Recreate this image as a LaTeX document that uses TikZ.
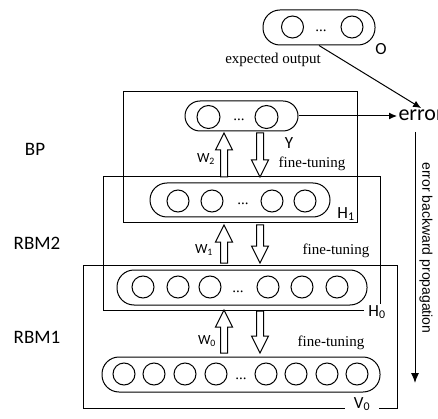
\documentclass[tikz,border=0pt]{standalone}
\usepackage{fontspec}
\setmainfont{Liberation Serif}
\setsansfont{Carlito}
\newfontfamily\arialfont{Liberation Sans}
\usetikzlibrary{arrows.meta,positioning}

\begin{document}
\begin{tikzpicture}[x=1pt,y=-1pt,line width=1pt,
  layer/.style={draw,rounded corners=17pt,minimum height=35pt,inner sep=0pt},
  unit/.style={draw,circle,minimum size=22pt,inner sep=0pt},
  dots/.style={font=\rmfamily\fontsize{15}{18}\selectfont,anchor=base,inner sep=0pt},
  lbl/.style={font=\sffamily\fontsize{19}{22}\selectfont},
  tag/.style={font=\sffamily\fontsize{17}{20}\selectfont,inner sep=1pt},
  wt/.style={font=\sffamily\fontsize{14}{16}\selectfont,inner sep=0pt},
  tune/.style={font=\rmfamily\fontsize{15}{18}\selectfont,inner sep=0pt},
  pics/harrow/.style={code={\draw[fill=white] (-3.5,0) -- (-3.5,{17-#1}) -- (-8.5,{17-#1}) -- (0,{-#1}) -- (8.5,{17-#1}) -- (3.5,{17-#1}) -- (3.5,0) -- cycle;}}]
  \useasboundingbox (0,0) rectangle (438,419);

  % Stacked blocks
  \draw (123,92) rectangle (357,223);
  \draw (103,177) rectangle (380,310);
  \draw (83,265) rectangle (397,408);
  \node[lbl] (bp) at (35,149) {BP};
  \node[lbl] (rbm2) at (37,243) {RBM2};
  \node[lbl] (rbm1) at (37,337) {RBM1};

  % Expected output
  \node[layer,minimum width=112pt] (obox) at (319,27.5) {};
  \foreach \cx [count=\i] in {292.5,352} \node[unit] (o\i) at (\cx,27) {};
  \node[dots] (odots) at (321,32) {...};
  \node[tag] (olbl) at (381,49) {O};
  \node[tune] (expd) at (273,60) {expected output};

  % Layer Y
  \node[layer,minimum width=113pt,minimum height=30pt,rounded corners=15pt] (ybox) at (241.5,116) {};
  \foreach \cx [count=\i] in {208.5,266.5} \node[unit,minimum size=23pt] (y\i) at (\cx,117) {};
  \node[dots] (ydots) at (239,121) {...};
  \node[tag] (ylbl) at (289,143) {Y};

  % Layer H1
  \node[layer,minimum width=180pt,minimum height=34pt] (h1box) at (240,200) {};
  \foreach \cx [count=\i] in {178,212,272,305} \node[unit] (ha\i) at (\cx,201) {};
  \node[dots] (h1dots) at (243,205) {...};
  \node[tag] (h1lbl) at (346,214) {H\textsubscript{1}};

  % Layer H0
  \node[layer,minimum width=250pt] (h0box) at (242,287.5) {};
  \foreach \cx [count=\i] in {143,178,210,268,302,337} \node[unit] (hb\i) at (\cx,287) {};
  \node[dots] (h0dots) at (238,292) {...};
  \node[tag,fill=white,inner xsep=4pt] (h0lbl) at (377,312) {H\textsubscript{0}};

  % Layer V0
  \node[layer,minimum width=278pt] (v0box) at (241,374.5) {};
  \foreach \cx [count=\i] in {124,154,185,216,266,296,327,357} \node[unit] (v\i) at (\cx,374) {};
  \node[dots] (v0dots) at (241,379) {...};
  \node[tag,fill=white,inner xsep=9pt] (v0lbl) at (362,404) {V\textsubscript{0}};

  % Weights up, fine-tuning down
  \pic at (224,177) {harrow=44};
  \pic[rotate=180] at (260,133) {harrow=44};
  \node[wt] (w2) at (206,159) {W\textsubscript{2}};
  \node[tune] (ft2) at (312,164) {fine-tuning};

  \pic at (224,263) {harrow=38};
  \pic[rotate=180] at (260,225) {harrow=38};
  \node[wt] (w1) at (204,250) {W\textsubscript{1}};
  \node[tune] (ft1) at (336,251) {fine-tuning};

  \pic at (224,353) {harrow=43};
  \pic[rotate=180] at (260,311) {harrow=42};
  \node[wt] (w0) at (207,341) {W\textsubscript{0}};
  \node[tune] (ft0) at (331,343) {fine-tuning};

  % Error
  \node[font=\sffamily\fontsize{22}{24}\selectfont,anchor=west,inner sep=1pt] (err) at (397,115) {error};
  \draw[-{Latex[length=8pt,width=7pt]}] (ybox.east) -- (ybox.east -| err.west);
  \draw[-{Latex[length=8pt,width=7pt]}] (obox.south) -- (err.north);

  % Backward propagation
  \coordinate (bptop) at (415,132);
  \coordinate (bpbot) at (415,383);
  \draw[-{Latex[length=10pt,width=8pt]}] (bptop) -- (bpbot);
  \node[font=\arialfont\fontsize{14}{16}\selectfont,rotate=-90] (ebp) at (426,248) {error backward propagation};
\end{tikzpicture}
\end{document}
